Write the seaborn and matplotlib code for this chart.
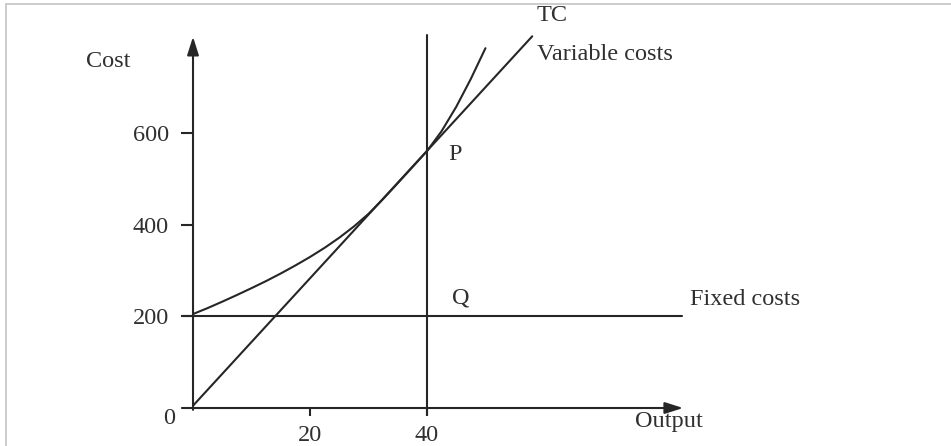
import numpy as np
import pandas as pd
import matplotlib
matplotlib.use("Agg")
import matplotlib.pyplot as plt
import seaborn as sns
from matplotlib.lines import Line2D

# ---- data ----
tc_x = [0, 2.5, 5, 7.5, 10, 12.5, 15, 17.5, 20, 22.5, 25, 27.5, 30, 32.5, 35,
        37.5, 40, 42.5, 45, 47.5, 50]
tc_y = [205, 218, 232, 246.5, 261.5, 277, 293.5, 311, 329.5, 349.5, 371.5, 396,
        423.5, 456, 490.5, 525.5, 560.5, 604, 657, 718, 785]
vc_x = [0, 58]
vc_y = [5, 811]
fc_x = [-1.7, 83.6]
fc_y = [200, 200]
out_x = [40, 40]
out_y = [-15, 814]
x_ticks = [20, 40]
y_ticks = [200, 400, 600]

sns.set_theme(style="white")
plt.rcParams["font.family"] = ["Liberation Serif", "DejaVu Serif"]

INK = "#262626"
TXT = "#303030"
FS = 17.5
LW = 1.5

fig = plt.figure(figsize=(9.51, 4.46), dpi=100)
ax = fig.add_axes([0, 0, 1, 1])
ax.set_xlim(-33.0, 129.6)
ax.set_ylim(-82.9, 890.2)
ax.patch.set_alpha(0)

tc = pd.DataFrame({"x": tc_x, "y": tc_y})
vc = pd.DataFrame({"x": vc_x, "y": vc_y})
fc = pd.DataFrame({"x": fc_x, "y": fc_y})
vl = pd.DataFrame({"x": out_x, "y": out_y})

for d in (tc, vc, fc, vl):
    sns.lineplot(data=d, x="x", y="y", ax=ax, color=INK, lw=LW,
                 estimator=None, sort=False)

# axes with arrowheads
arrow = dict(arrowstyle="-|>,head_length=1.1,head_width=0.35", color=INK,
             lw=LW, shrinkA=0, shrinkB=0, mutation_scale=10)
ax.annotate("", xy=(83.8, 0), xytext=(-1.9, 0), arrowprops=arrow)
ax.annotate("", xy=(0, 810), xytext=(0, -4), arrowprops=arrow)

# ticks on invisible spines positioned at 0
for s in ax.spines.values():
    s.set_visible(False)
ax.spines["left"].set_position(("data", 0))
ax.spines["bottom"].set_position(("data", 0))
ax.set_xticks(x_ticks)
ax.set_yticks(y_ticks)
ax.set_xticklabels([str(v) for v in x_ticks])
ax.set_yticklabels([str(v) for v in y_ticks])
ax.tick_params(axis="y", direction="out", length=8.5, width=LW, color=INK,
               pad=9, labelsize=FS, labelcolor=TXT, left=True)
ax.tick_params(axis="x", direction="out", length=6, width=LW, color=INK,
               pad=6, labelsize=FS, labelcolor=TXT, bottom=True)
ax.set_xlabel("")
ax.set_ylabel("")
ax.grid(False)

# labels
kw = dict(fontsize=FS, color=TXT)
ax.text(-14.5, 755, "Cost", ha="center", va="center", **kw)
ax.text(-4.1, -22, "0", ha="center", va="center", **kw)
ax.text(58.8, 857, "TC", ha="left", va="center", **kw)
ax.text(58.8, 772, "Variable costs", ha="left", va="center", **kw)
ax.text(43.6, 554, "P", ha="left", va="center", **kw)
ax.text(44.3, 240, "Q", ha="left", va="center", **kw)
ax.text(85.0, 236, "Fixed costs", ha="left", va="center", **kw)
ax.text(75.6, -30, "Output", ha="left", va="center", **kw)

# thin grey frame at left and top (scan border)
fig.add_artist(Line2D([5.5 / 951, 5.5 / 951], [0, 1 - 3.5 / 446],
                      color="#c4c4c4", lw=1.2, transform=fig.transFigure))
fig.add_artist(Line2D([5.5 / 951, 1], [1 - 3.5 / 446, 1 - 3.5 / 446],
                      color="#c4c4c4", lw=1.2, transform=fig.transFigure))

fig.savefig("out.png", dpi=100)
